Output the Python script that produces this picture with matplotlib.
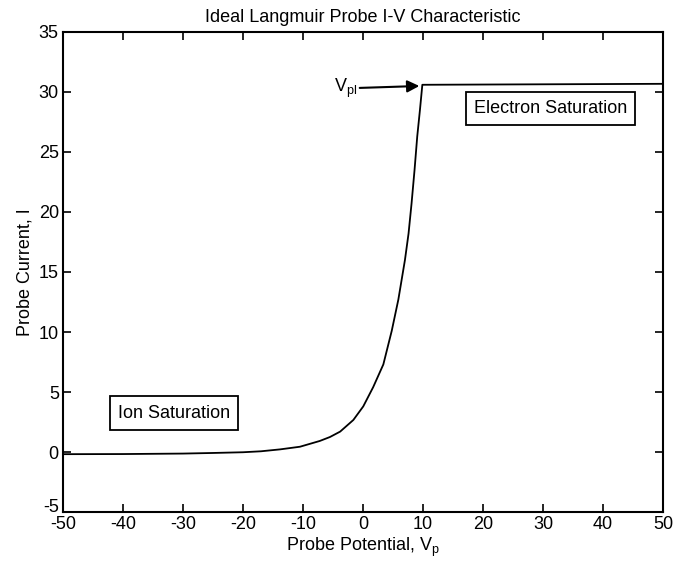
import matplotlib.pyplot as plt
import matplotlib.transforms as mtransforms

plt.rcParams['font.family'] = ['Liberation Sans', 'DejaVu Sans']
plt.rcParams['axes.unicode_minus'] = False

# values
probe_v = [-50, -40, -30, -25, -20, -17, -13.8, -10.5, -7.2, -5.5, -3.8, -1.6, 0.05,
           1.7, 3.4, 4.8, 5.9, 7.0, 7.6, 8.1, 8.6, 9.05, 9.5, 9.9, 20, 30, 40, 50]
probe_i = [-0.18, -0.17, -0.13, -0.08, -0.02, 0.06, 0.22, 0.44, 0.92, 1.25, 1.7, 2.67, 3.8,
           5.4, 7.3, 10.1, 12.7, 16.0, 18.2, 20.7, 23.5, 26.3, 28.5, 30.6,
           30.62, 30.64, 30.66, 30.68]

x_ticks = [-50, -40, -30, -20, -10, 0, 10, 20, 30, 40, 50]
y_ticks = [-5, 0, 5, 10, 15, 20, 25, 30, 35]

fig = plt.figure(figsize=(6.73, 5.71), dpi=100)
ax = fig.add_axes([0.0936, 0.1033, 0.8914, 0.8407])

ax.plot(probe_v, probe_i, color='black', lw=1.3)

ax.set_xlim(-50, 50)
ax.set_ylim(-5, 35)
ax.set_xticks(x_ticks)
ax.set_yticks(y_ticks)
ax.tick_params(direction='in', length=6, width=1.2, top=True, right=True,
               labelsize=13, pad=3)
for sp in ax.spines.values():
    sp.set_linewidth(1.5)

# lift the -5 label a little so it clears -50, as in the original
lbl = ax.get_yticklabels()[0]
lbl.set_transform(lbl.get_transform() + mtransforms.ScaledTranslation(0, 5 / 72, fig.dpi_scale_trans))

ax.set_title('Ideal Langmuir Probe I-V Characteristic', fontsize=13, pad=7)
ax.set_xlabel('Probe Potential, V$_\\mathregular{p}$', fontsize=13, labelpad=2)
ax.set_ylabel('Probe Current, I', fontsize=13, labelpad=4)

ax.annotate('V$_\\mathregular{pl}$', xy=(9.4, 30.5), xytext=(-1.0, 30.3),
            fontsize=13, ha='right', va='center',
            arrowprops=dict(arrowstyle='-|>', color='black', lw=1.5,
                            mutation_scale=18, shrinkA=0, shrinkB=0))

box = dict(boxstyle='square,pad=0.45', fc='white', ec='black', lw=1.3)
ax.text(31.3, 28.6, 'Electron Saturation', fontsize=13, ha='center', va='center', bbox=box)
ax.text(-31.5, 3.25, 'Ion Saturation', fontsize=13, ha='center', va='center', bbox=box)

fig.savefig('out.png', dpi=100)
